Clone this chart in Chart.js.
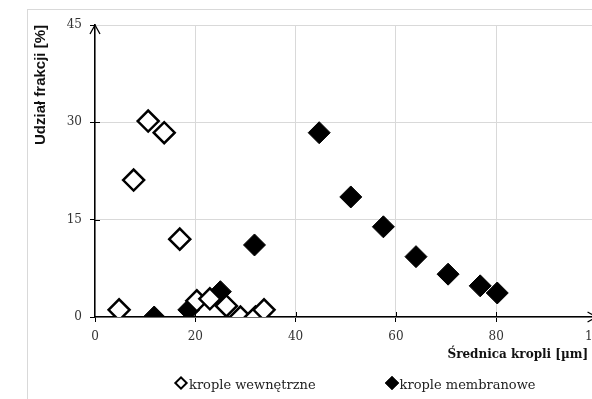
<!DOCTYPE html>
<html>
<head>
<meta charset="utf-8">
<script src="https://cdn.jsdelivr.net/npm/chart.js@4"></script>
<style>
  body { margin: 0; overflow: hidden; background: #fff; }
  #wrap { position: relative; width: 616px; height: 399px; }
  #legend { position: absolute; left: 175px; top: 377px; font: 13px "DejaVu Serif", serif; color: #222; white-space: nowrap; }
  #legend span.item { display: inline-block; margin-right: 70px; }
  #legend i { display: inline-block; width: 6px; height: 6px; border: 2px solid #000; transform: rotate(45deg); margin: 0 3px 1px 1px; }
</style>
</head>
<body>
<div id="wrap">
  <canvas id="scatter-chart"></canvas>
  <div id="legend"></div>
</div>
<script>
// data
var innerX = [4.8, 10.6, 13.8, 7.7, 16.9, 20.3, 22.9, 26.2, 29, 32, 33.7];
var innerY = [1.1, 30.2, 28.4, 21.1, 12, 2.5, 2.8, 1.7, 0, 0, 1.1];
var membX = [11.8, 18.7, 25, 31.8, 44.7, 51, 57.5, 64, 70.4, 76.8, 80.2];
var membY = [0, 1.1, 3.9, 11.1, 28.4, 18.5, 13.9, 9.3, 6.6, 4.8, 3.7];
var seriesNames = ["krople wewnętrzne", "krople membranowe"];
var xTicks = [0, 20, 40, 60, 80, 100];
var yTicks = [0, 15, 30, 45];

function toPoints(xs, ys) {
  return xs.map(function (x, i) { return {x: x, y: ys[i]}; });
}

var ctxScatter = document.getElementById("scatter-chart");

// light frame + axis arrows + ticks crossing the axes
var framePlugin = {
  id: 'frame',
  beforeDraw: function (chart) {
    var c = chart.ctx;
    c.save();
    c.strokeStyle = '#d9d9d9';
    c.lineWidth = 1;
    c.strokeRect(27.5, 9.5, 700, 500);
    c.restore();
  },
  afterDatasetsDraw: function (chart) {
    var c = chart.ctx, a = chart.chartArea;
    var sx = chart.scales.x, sy = chart.scales.y;
    c.save();
    c.strokeStyle = '#000';
    c.lineWidth = 1.3;
    c.beginPath();
    c.moveTo(a.left - 5, a.top + 9);
    c.lineTo(a.left, a.top);
    c.lineTo(a.left + 5, a.top + 9);
    c.moveTo(a.right - 9, a.bottom - 5);
    c.lineTo(a.right, a.bottom);
    c.lineTo(a.right - 9, a.bottom + 5);
    c.stroke();
    c.lineWidth = 1;
    c.beginPath();
    xTicks.slice(1, -1).forEach(function (v) {
      var px = Math.round(sx.getPixelForValue(v)) + 0.5;
      c.moveTo(px, a.bottom - 5);
      c.lineTo(px, a.bottom);
    });
    yTicks.slice(1, -1).forEach(function (v) {
      var py = Math.round(sy.getPixelForValue(v)) + 0.5;
      c.moveTo(a.left, py);
      c.lineTo(a.left + 5, py);
    });
    c.stroke();
    c.restore();
  }
};

var serif = "'DejaVu Serif', serif";

var chartGraph = new Chart(ctxScatter, {
  type: 'scatter',
  data: {
    datasets: [
      {
        label: seriesNames[0],
        data: toPoints(innerX, innerY),
        pointStyle: 'rectRot',
        pointRadius: 10.5,
        pointHoverRadius: 10.5,
        borderWidth: 2.5,
        borderColor: '#000',
        backgroundColor: '#fff'
      },
      {
        label: seriesNames[1],
        data: toPoints(membX, membY),
        pointStyle: 'rectRot',
        pointRadius: 11,
        pointHoverRadius: 11,
        borderWidth: 1,
        borderColor: '#000',
        backgroundColor: '#000'
      }
    ]
  },
  options: {
    responsive: true,
    maintainAspectRatio: false,
    animation: false,
    layout: { padding: { top: 25, right: 15, left: 0, bottom: 0 } },
    plugins: {
      legend: { display: false },
      tooltip: { enabled: false }
    },
    scales: {
      x: {
        type: 'linear',
        min: 0,
        max: 100,
        afterBuildTicks: function (s) { s.ticks = xTicks.map(function (v) { return {value: v}; }); },
        afterFit: function (s) { s.height = 82; },
        grid: { color: '#d9d9d9', tickColor: '#000', tickLength: 5 },
        border: { color: '#000', width: 1.5 },
        ticks: { color: '#333', padding: 8, font: { family: serif, size: 12 } },
        title: {
          display: true,
          text: 'Średnica kropli [µm]\u00a0\u00a0',
          align: 'end',
          color: '#111',
          font: { family: serif, size: 12, weight: 'bold' },
          padding: { top: 0, bottom: 37 }
        }
      },
      y: {
        min: 0,
        max: 45,
        afterBuildTicks: function (s) { s.ticks = yTicks.map(function (v) { return {value: v}; }); },
        afterFit: function (s) { s.width = 95; },
        grid: { color: '#d9d9d9', tickColor: '#000', tickLength: 5 },
        border: { color: '#000', width: 1.5 },
        ticks: { color: '#333', padding: 8, font: { family: serif, size: 12 } },
        title: {
          display: true,
          text: 'Udział frakcji [%]',
          align: 'end',
          color: '#111',
          font: { family: "'Liberation Sans Narrow', 'Liberation Sans', sans-serif", size: 15, weight: 'bold' },
          padding: { top: 32, bottom: 0 }
        }
      }
    }
  },
  plugins: [framePlugin]
});

// html legend from the datasets
var legendBox = document.getElementById("legend");
chartGraph.data.datasets.forEach(function (ds) {
  var item = document.createElement("span");
  item.className = "item";
  var mark = document.createElement("i");
  mark.style.background = ds.backgroundColor;
  item.appendChild(mark);
  item.appendChild(document.createTextNode(ds.label));
  legendBox.appendChild(item);
});
</script>
</body>
</html>
